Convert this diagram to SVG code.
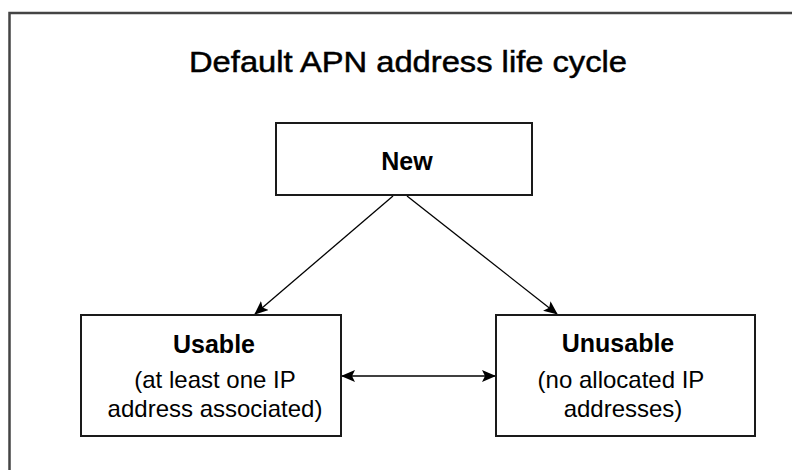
<svg xmlns="http://www.w3.org/2000/svg" width="792" height="470" viewBox="0 0 792 470">
<style>
.box{fill:#fff;stroke:#1a1a1a;stroke-width:2}
.t{font-family:"Liberation Sans",Arial,sans-serif;fill:#000;text-anchor:middle}
.b{font-weight:bold;font-size:25px}
.n{font-size:24px}
.c{stroke:#000;stroke-width:1.3;fill:none}
</style>
<defs>
<marker id="ah" viewBox="0 0 14 12" refX="13" refY="6" markerWidth="14" markerHeight="12" markerUnits="userSpaceOnUse" orient="auto-start-reverse">
<path d="M0,0 L14,6 L0,12 L3,6 Z" fill="#000"/>
</marker>
</defs>
<rect width="792" height="470" fill="#fff"/>
<rect x="9.5" y="13" width="800" height="500" fill="none" stroke="#444" stroke-width="2.5"/>
<text class="t" x="408" y="72" font-size="30" stroke="#000" stroke-width="0.5" textLength="438" lengthAdjust="spacingAndGlyphs">Default APN address life cycle</text>
<g id="connectors">
<line class="c" x1="393" y1="196" x2="255" y2="314" marker-end="url(#ah)"/>
<line class="c" x1="407" y1="196" x2="557" y2="314" marker-end="url(#ah)"/>
<line class="c" x1="342" y1="376" x2="495" y2="376" marker-start="url(#ah)" marker-end="url(#ah)"/>
</g>
<g id="new">
<rect class="box" x="276" y="123" width="256" height="72"/>
<text class="t b" x="407" y="170">New</text>
</g>
<g id="usable">
<rect class="box" x="81" y="315" width="260" height="121"/>
<text class="t b" x="214" y="353">Usable</text>
<text class="t n" x="215" y="388">(at least one IP</text>
<text class="t n" x="215" y="417">address associated)</text>
</g>
<g id="unusable">
<rect class="box" x="496" y="315" width="259" height="121"/>
<text class="t b" x="618" y="352">Unusable</text>
<text class="t n" x="621" y="388">(no allocated IP</text>
<text class="t n" x="623" y="417">addresses)</text>
</g>
</svg>
